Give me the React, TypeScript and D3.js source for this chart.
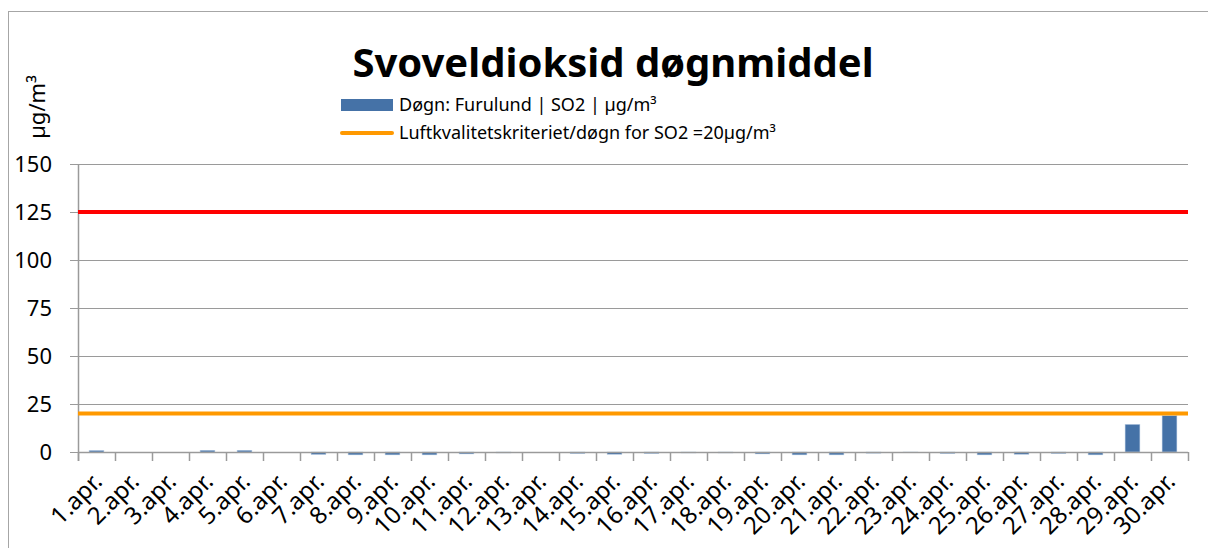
import React from "react";
import * as d3 from "d3";

const categories = [
  "1.apr.", "2.apr.", "3.apr.", "4.apr.", "5.apr.", "6.apr.", "7.apr.", "8.apr.", "9.apr.", "10.apr.",
  "11.apr.", "12.apr.", "13.apr.", "14.apr.", "15.apr.", "16.apr.", "17.apr.", "18.apr.", "19.apr.", "20.apr.",
  "21.apr.", "22.apr.", "23.apr.", "24.apr.", "25.apr.", "26.apr.", "27.apr.", "28.apr.", "29.apr.", "30.apr.",
];
const so2Values = [
  0.8, 0, 0, 0.9, 0.9, 0, -1.3, -1.5, -1.5, -1.5,
  -1.0, -0.5, 0, -0.8, -1.2, -0.8, -0.5, -0.5, -1.0, -1.5,
  -1.5, -0.6, -0.3, -0.8, -1.5, -1.2, -0.8, -1.5, 14.4, 18.9,
];
const yTicks = [0, 25, 50, 75, 100, 125, 150];
const redLimit = 125;
const orangeLimit = 20;

const title = "Svoveldioksid døgnmiddel";
const yTitle = "µg/m³";
const legendBar = "Døgn: Furulund | SO2 | µg/m³";
const legendLine = "Luftkvalitetskriteriet/døgn for SO2 =20µg/m³";

const W = 1208;
const H = 548;
const left = 78;
const right = 1188;
const top = 164;
const bottom = 452;
const font = "'Noto Sans', 'Open Sans', sans-serif";

export default function App() {
  const x = d3.scaleBand<string>().domain(categories).range([left, right]).paddingInner(0.6).paddingOuter(0.3);
  const y = d3.scaleLinear().domain([0, 150]).range([bottom, top]);
  const step = x.step();
  const boundaries = categories.map((c) => (x(c) as number) - (step * x.paddingInner()) / 2);
  boundaries.push(right);
  const axisColor = "#9a9a9a";

  return (
    <svg width={W} height={H} style={{ position: "absolute", left: 0, top: 0, background: "#fff" }}>
      <rect x={8.5} y={11.5} width={1240} height={580} fill="#fff" stroke="#a6a6a6" strokeWidth={1} />
      <text x={613} y={77} textAnchor="middle" fontFamily={font} fontWeight="bold" fontSize={40} fill="#000">
        {title}
      </text>
      <text transform="translate(45,107) rotate(-90)" textAnchor="middle" fontFamily={font} fontSize={22} fill="#000">
        {yTitle}
      </text>
      {/* legend */}
      <rect x={341} y={99} width={52} height={12} fill="#4572a7" />
      <text x={399} y={111} fontFamily={font} fontSize={18} fill="#000">{legendBar}</text>
      <line x1={342} x2={392} y1={133} y2={133} stroke="#ff9900" strokeWidth={4} strokeLinecap="round" />
      <text x={399} y={139} fontFamily={font} fontSize={18} fill="#000">{legendLine}</text>

      {/* gridlines and y ticks */}
      {yTicks.map((t) => (
        <g key={t}>
          <line x1={left - 8} x2={right} y1={Math.round(y(t)) + 0.5} y2={Math.round(y(t)) + 0.5} stroke={axisColor} strokeWidth={1.2} />
          <text x={52} y={y(t) + 8} textAnchor="end" fontFamily={font} fontSize={22} fill="#000">{t}</text>
        </g>
      ))}
      <line x1={left + 0.5} x2={left + 0.5} y1={top} y2={bottom + 9} stroke={axisColor} strokeWidth={1.5} />

      {/* bars */}
      {so2Values.map((v, i) => {
        const y0 = y(0);
        const yv = y(v);
        return (
          <rect key={i} x={x(categories[i]) as number} width={x.bandwidth()} y={Math.min(y0, yv)} height={Math.abs(yv - y0)}
            fill="#4572a7" stroke="#b9cde5" strokeWidth={0.5} />
        );
      })}

      {/* x axis */}
      <line x1={left} x2={right} y1={bottom + 0.5} y2={bottom + 0.5} stroke={axisColor} strokeWidth={1.5} />
      {boundaries.map((b, i) => (
        <line key={i} x1={b + 0.5} x2={b + 0.5} y1={bottom} y2={bottom + 9} stroke={axisColor} strokeWidth={1.5} />
      ))}
      {categories.map((c) => {
        const cx = (x(c) as number) + x.bandwidth() / 2 + 7;
        return (
          <text key={c} transform={`translate(${cx},${bottom + 31}) rotate(-45)`} textAnchor="end" fontFamily={font} fontSize={24} fill="#000">
            {c}
          </text>
        );
      })}

      {/* limit lines */}
      <line x1={left} x2={right} y1={y(redLimit)} y2={y(redLimit)} stroke="#ff0000" strokeWidth={4} />
      <line x1={left} x2={right} y1={y(orangeLimit)} y2={y(orangeLimit)} stroke="#ff9900" strokeWidth={4} />
    </svg>
  );
}
